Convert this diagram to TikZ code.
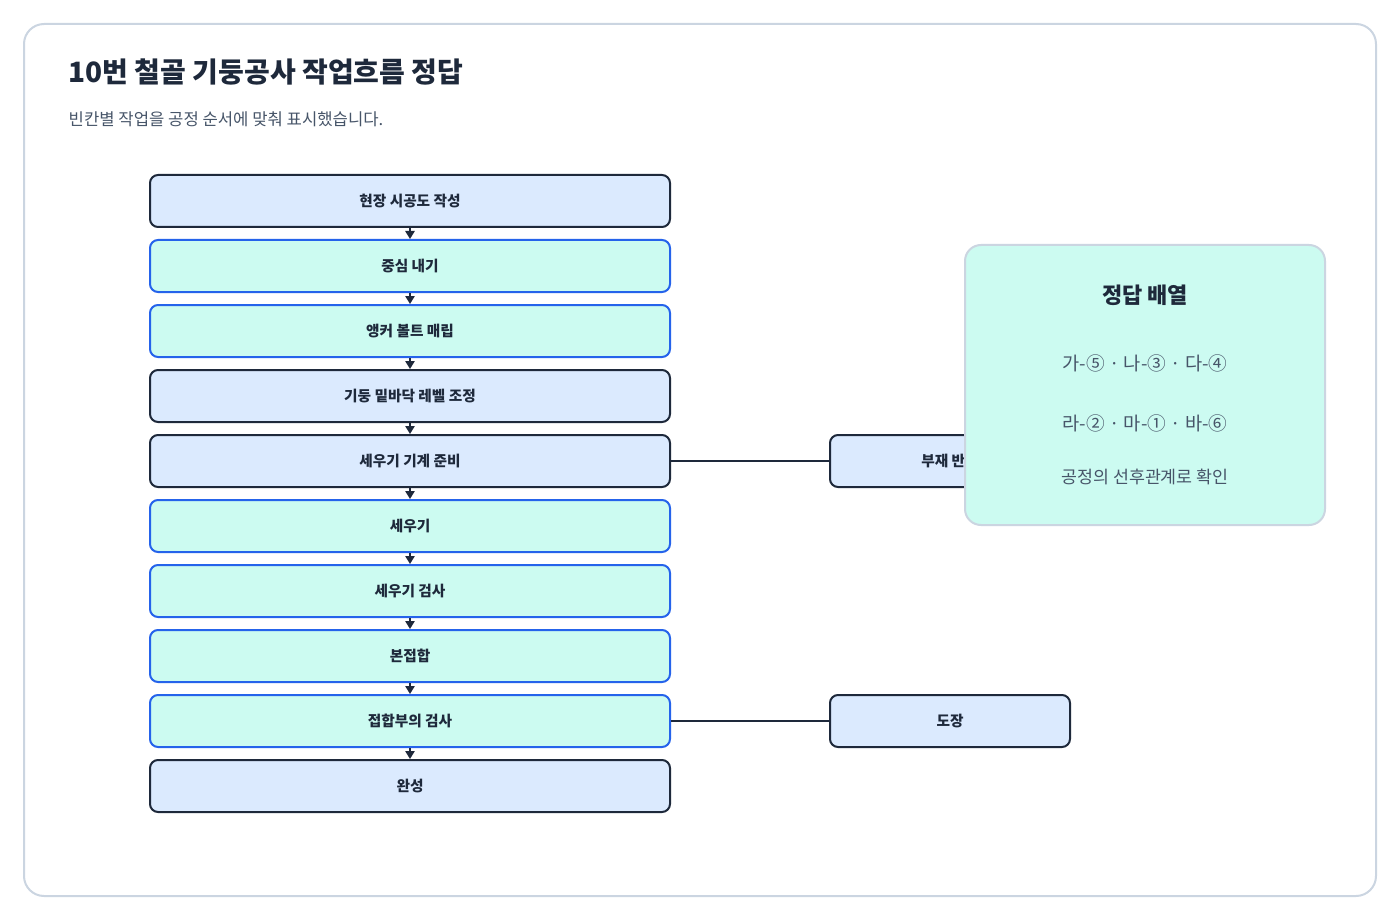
\documentclass[tikz,border=0pt]{standalone}
\usepackage{fontspec}
\setmainfont{Noto Sans CJK KR}
\usetikzlibrary{arrows.meta}
\definecolor{dk}{HTML}{1E293B}
\definecolor{bl}{HTML}{DBEAFE}
\definecolor{gr}{HTML}{CCFBF1}
\definecolor{bb}{HTML}{2563EB}
\definecolor{fr}{HTML}{CBD5E1}
\definecolor{tx}{HTML}{475569}
\begin{document}
\begin{tikzpicture}[x=0.75pt,y=-0.75pt,
 box/.style={draw=dk,fill=bl,line width=1.5pt,rounded corners=6pt,minimum width=390pt,minimum height=39pt,inner sep=0pt,font=\fontsize{11}{13}\selectfont\bfseries,text=dk},
 gbox/.style={box,draw=bb,fill=gr},
 sbox/.style={box,minimum width=180pt},
 arr/.style={draw=dk,line width=1.2pt,-{Triangle[length=6pt,width=7pt]}},
 ln/.style={draw=dk,line width=1.5pt}]
\useasboundingbox (0,0) rectangle (1400,920);
\draw[fr,line width=1.5pt,rounded corners=15pt,fill=white] (24,24) rectangle (1376,896);
\node[anchor=west,font=\fontsize{21}{25}\selectfont\bfseries,text=dk] (title) at (64,72) {10번 철골 기둥공사 작업흐름 정답};
\node[anchor=west,font=\fontsize{12.5}{15}\selectfont,text=tx] (sub) at (64,119) {빈칸별 작업을 공정 순서에 맞춰 표시했습니다.};
\node[box]  (n1) at (410,201) {현장 시공도 작성};
\node[gbox] (n2) at (410,266) {중심 내기};
\node[gbox] (n3) at (410,331) {앵커 볼트 매립};
\node[box]  (n4) at (410,396) {기둥 밑바닥 레벨 조정};
\node[box]  (n5) at (410,461) {세우기 기계 준비};
\node[gbox] (n6) at (410,526) {세우기};
\node[gbox] (n7) at (410,591) {세우기 검사};
\node[gbox] (n8) at (410,656) {본접합};
\node[gbox] (n9) at (410,721) {접합부의 검사};
\node[box]  (n10) at (410,786) {완성};
\foreach \a/\b in {n1/n2,n2/n3,n3/n4,n4/n5,n5/n6,n6/n7,n7/n8,n8/n9,n9/n10}
  \draw[arr] (\a.south) -- (\b.north);
\node[sbox] (m1) at (950,461) {부재 반입};
\node[sbox] (m2) at (950,721) {도장};
\draw[ln] (n5.east) -- (m1.west);
\draw[ln] (n9.east) -- (m2.west);
\draw[fr,line width=1.5pt,fill=gr,rounded corners=12pt] (965,245) rectangle (1325,525);
\node[font=\fontsize{16.5}{20}\selectfont\bfseries,text=dk] (pt) at (1145,295) {정답 배열};
\node[font=\fontsize{14}{17}\selectfont,text=tx] (r1) at (1145,363) {가-⑤ · 나-③ · 다-④};
\node[font=\fontsize{14}{17}\selectfont,text=tx] (r2) at (1145,423) {라-② · 마-① · 바-⑥};
\node[font=\fontsize{13}{16}\selectfont,text=tx] (r3) at (1145,477) {공정의 선후관계로 확인};
\end{tikzpicture}
\end{document}
